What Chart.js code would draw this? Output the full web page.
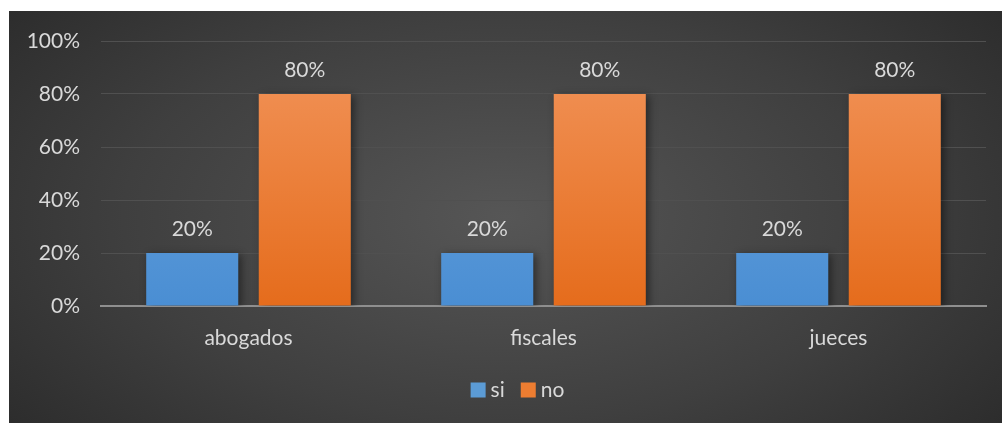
<!DOCTYPE html>
<html>
<head>
<meta charset="utf-8">
<script src="https://cdn.jsdelivr.net/npm/chart.js@4/dist/chart.umd.min.js"></script>
<style>
  html, body { margin: 0; padding: 0; background: #fff; }
  #wrap {
    position: absolute; left: 9px; top: 11px; width: 993px; height: 412px;
    background: radial-gradient(ellipse 70% 90% at 50% 50%, #565656 0%, #3f3f3f 55%, #282828 100%);
  }
</style>
</head>
<body>
<div id="wrap"><canvas id="c" width="993" height="412"></canvas></div>
<script>
const categories = ['abogados', 'fiscales', 'jueces']
const siValues = [20, 20, 20]
const noValues = [80, 80, 80]
const yTicks = [0, 20, 40, 60, 80, 100]
const legendColors = ['#5b9bd5', '#ed7d31']

const FONT = 'Lato, "Open Sans", sans-serif'
const TEXT = '#d9d9d9'
const FS = 21

function vgrad(top, bottom) {
  return ctx => {
    const area = ctx.chart.chartArea
    if (!area) return bottom
    const el = ctx.element
    const y0 = el && el.y != null ? el.y : area.top
    const g = ctx.chart.ctx.createLinearGradient(0, y0, 0, area.bottom)
    g.addColorStop(0, top)
    g.addColorStop(1, bottom)
    return g
  }
}

const barShadow = {
  id: 'barShadow',
  beforeDatasetsDraw(chart) {
    const c = chart.ctx
    c.save()
    c.shadowColor = 'rgba(0,0,0,0.45)'
    c.shadowBlur = 8
    c.shadowOffsetX = 3
    c.shadowOffsetY = 2
  },
  afterDatasetsDraw(chart) {
    chart.ctx.restore()
  }
}

const valueLabels = {
  id: 'valueLabels',
  afterDatasetsDraw(chart) {
    const c = chart.ctx
    c.save()
    c.font = FS + 'px ' + FONT
    c.fillStyle = TEXT
    c.textAlign = 'center'
    c.textBaseline = 'middle'
    chart.data.datasets.forEach((ds, i) => {
      chart.getDatasetMeta(i).data.forEach((bar, j) => {
        c.fillText(ds.data[j] + '%', bar.x, bar.y - 24)
      })
    })
    c.restore()
  }
}

// Excel-style legend: small box, tight gap to text
const bottomLegend = {
  id: 'bottomLegend',
  afterDraw(chart) {
    const c = chart.ctx
    c.save()
    c.font = FS + 'px ' + FONT
    c.textBaseline = 'middle'
    const box = 15, gap = 5, sep = 16
    const items = chart.data.datasets.map(ds => ds.label)
    const widths = items.map(t => box + gap + c.measureText(t).width)
    const total = widths.reduce((a, b) => a + b, 0) + sep * (items.length - 1)
    let x = chart.width / 2 - total / 2 + 12
    const y = 379
    items.forEach((t, i) => {
      c.fillStyle = legendColors[i]
      c.fillRect(x, y - box / 2, box, box)
      c.fillStyle = TEXT
      c.fillText(t, x + box + gap, y)
      x += widths[i] + sep
    })
    c.restore()
  }
}

new Chart(document.getElementById('c'), {
  type: 'bar',
  data: {
    labels: categories,
    datasets: [
      { label: 'si', data: siValues, backgroundColor: vgrad('#72a9df', '#4a8ed3') },
      { label: 'no', data: noValues, backgroundColor: vgrad('#f2955c', '#e56c1c') },
    ],
  },
  options: {
    responsive: false,
    animation: false,
    categoryPercentage: 0.763,
    barPercentage: 0.818,
    layout: { padding: { left: 0, right: 16, top: 30, bottom: 0 } },
    plugins: {
      tooltip: { enabled: false },
      legend: { display: false },
    },
    scales: {
      x: {
        afterFit: s => { s.height = 117 },
        grid: { display: false },
        border: { color: '#8f8f8f', width: 2 },
        ticks: { color: TEXT, font: { family: FONT, size: FS }, padding: 12 },
      },
      y: {
        min: 0, max: 100,
        afterFit: s => { s.width = 92; s.paddingTop = 0; s.paddingBottom = 0 },
        afterBuildTicks: s => { s.ticks = yTicks.map(v => ({ value: v })) },
        border: { display: false },
        grid: { color: '#505050', lineWidth: 1, drawTicks: false },
        ticks: {
          color: TEXT, font: { family: FONT, size: FS }, padding: 21,
          callback: v => v + '%',
        },
      },
    },
  },
  plugins: [barShadow, valueLabels, bottomLegend],
})
</script>
</body>
</html>
